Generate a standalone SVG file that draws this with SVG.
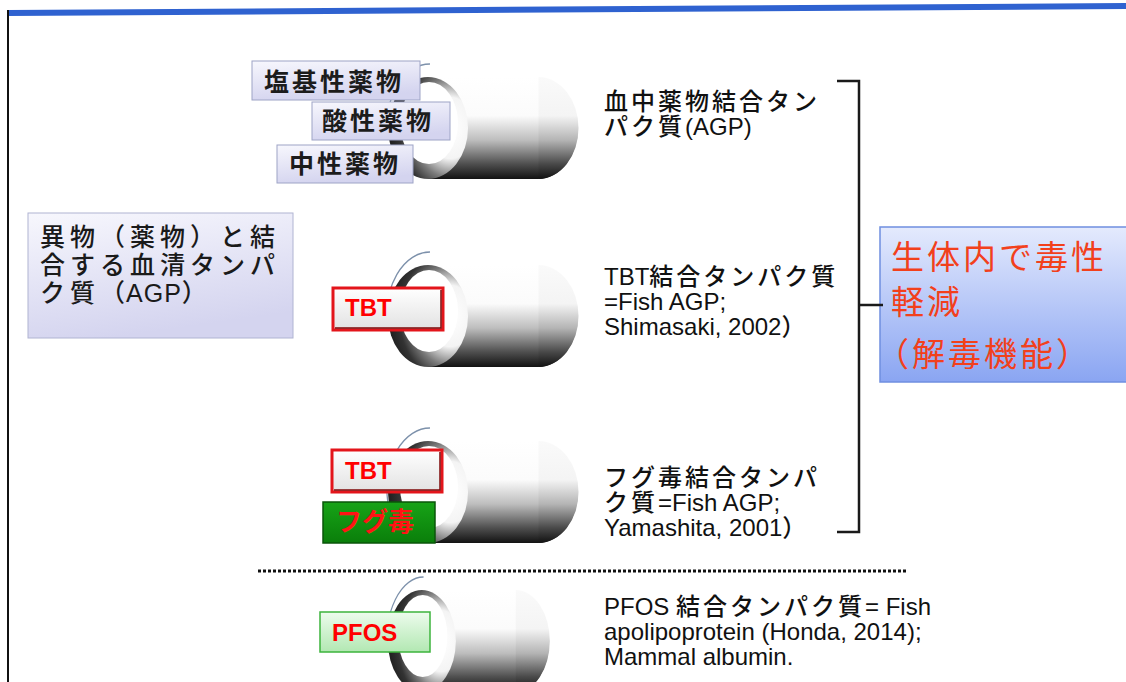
<svg xmlns="http://www.w3.org/2000/svg" width="1126" height="682" viewBox="0 0 1126 682">
  <defs>
    <!-- tube shading -->
    <linearGradient id="gBody" x1="0" y1="0" x2="0" y2="1">
      <stop offset="0" stop-color="#ffffff"/>
      <stop offset="0.38" stop-color="#fbfbfb"/>
      <stop offset="0.62" stop-color="#bdbdbd"/>
      <stop offset="0.85" stop-color="#505050"/>
      <stop offset="1" stop-color="#121212"/>
    </linearGradient>
    <linearGradient id="gCap" x1="0" y1="0" x2="0" y2="1">
      <stop offset="0" stop-color="#fafafa"/>
      <stop offset="0.38" stop-color="#f4f4f4"/>
      <stop offset="0.62" stop-color="#b4b4b4"/>
      <stop offset="0.85" stop-color="#4a4a4a"/>
      <stop offset="1" stop-color="#111111"/>
    </linearGradient>
    <radialGradient id="gRing" cx="0.78" cy="0.5" r="0.75">
      <stop offset="0" stop-color="#ffffff"/>
      <stop offset="0.4" stop-color="#f4f4f4"/>
      <stop offset="0.65" stop-color="#7a7a7a"/>
      <stop offset="0.85" stop-color="#333333"/>
      <stop offset="1" stop-color="#222222"/>
    </radialGradient>
    <!-- box fills -->
    <linearGradient id="gLav" x1="0" y1="0" x2="0.3" y2="1">
      <stop offset="0" stop-color="#f7f7fd"/>
      <stop offset="1" stop-color="#d4d4ef"/>
    </linearGradient>
    <linearGradient id="gWhite" x1="0" y1="0" x2="0" y2="1">
      <stop offset="0" stop-color="#ffffff"/>
      <stop offset="1" stop-color="#e2e2e2"/>
    </linearGradient>
    <linearGradient id="gGreen" x1="0" y1="0" x2="0" y2="1">
      <stop offset="0" stop-color="#17a317"/>
      <stop offset="1" stop-color="#0a7e0a"/>
    </linearGradient>
    <linearGradient id="gMint" x1="0" y1="0" x2="0" y2="1">
      <stop offset="0" stop-color="#edfced"/>
      <stop offset="1" stop-color="#b2e8b2"/>
    </linearGradient>
    <linearGradient id="gBlue" x1="0" y1="0" x2="0" y2="1">
      <stop offset="0" stop-color="#e4eafd"/>
      <stop offset="1" stop-color="#8aa5f2"/>
    </linearGradient>

    <!-- horizontal tube, origin = left rim edge at mid height -->
    <g id="tube">
      <path d="M41,-51 H151 A40,51 0 0 1 151,51 H41 Z" fill="url(#gBody)"/>
      <path d="M151.5,-51 A40,51 0 0 1 151.5,51 Z" fill="url(#gCap)"/>
      <ellipse cx="41" cy="0" rx="40" ry="51" fill="url(#gRing)"/>
      <ellipse cx="42" cy="-5" rx="29" ry="41" fill="#ffffff"/>
      <path d="M0.8,10 A43,62 0 0 1 43,-64" fill="none" stroke="#7d91ab" stroke-width="1.3"/>
    </g>
  </defs>

  <style>
    text { font-family: "Liberation Sans", "Noto Sans CJK JP", sans-serif; }
    .drug rect { fill: url(#gLav); stroke: #9ea4c6; stroke-width: 1; }
    .drug text { font-size: 25px; font-weight: bold; letter-spacing: 3px; fill: #1c1c1c; }
    .tbt rect { fill: url(#gWhite); stroke: #e3151b; stroke-width: 3; }
    .tbt path { fill: none; stroke: #7d0808; stroke-width: 1.5; }
    .tag { font-size: 24px; font-weight: bold; fill: #ff0000; }
    .note { font-size: 24px; font-weight: 500; fill: #111111; }
    .j { letter-spacing: 3px; }
    .lead { font-size: 25px; font-weight: 500; letter-spacing: 5px; fill: #1a1a1a; }
    .lat { letter-spacing: 1px; }
    .effect { font-size: 33px; letter-spacing: 3px; fill: #f2401c; }
    .line { fill: none; stroke: #1a1a1a; stroke-width: 2.5; }
  </style>

  <rect width="1126" height="682" fill="#ffffff"/>

  <!-- frame: blue top rule and left edge -->
  <g id="frame">
    <polygon points="8,10 1126,3 1126,9 8,16" fill="#2f62d0"/>
    <line x1="8" y1="10" x2="8" y2="682" stroke="#111111" stroke-width="2"/>
  </g>

  <!-- title box -->
  <g id="serum-protein">
    <rect x="28" y="213" width="265" height="125" fill="url(#gLav)" stroke="#b0b4d2" stroke-width="1"/>
    <text class="lead" x="40" y="246">異物（薬物）と結</text>
    <text class="lead" x="40" y="274">合する血清タンパ</text>
    <text class="lead" x="40" y="302">ク質<tspan class="lat">（AGP）</tspan></text>
  </g>

  <!-- AGP with drugs -->
  <g id="agp">
    <use href="#tube" transform="translate(387,128)"/>
    <g class="drug">
      <rect x="252" y="61" width="168" height="39"/>
      <text x="264" y="91">塩基性薬物</text>
      <rect x="312" y="102" width="138" height="38"/>
      <text x="322" y="130">酸性薬物</text>
      <rect x="277" y="145" width="136" height="38"/>
      <text x="289" y="173">中性薬物</text>
    </g>
    <text class="note" x="604" y="110"><tspan class="j">血中薬物結合タン</tspan></text>
    <text class="note" x="604" y="135"><tspan class="j">パク質</tspan>(AGP)</text>
  </g>

  <!-- TBT binding protein -->
  <g id="tbt-protein">
    <use href="#tube" transform="translate(387,316)"/>
    <g class="tbt">
      <rect x="333" y="288" width="110" height="42"/>
      <path d="M441,290 V328 H335"/>
    </g>
    <text class="tag" x="345" y="316">TBT</text>
    <text class="note" x="604" y="285">TBT<tspan class="j">結合タンパク質</tspan></text>
    <text class="note" x="604" y="310">=Fish AGP;</text>
    <text class="note" x="604" y="335">Shimasaki, 2002）</text>
  </g>

  <!-- pufferfish toxin binding protein -->
  <g id="ttx-protein">
    <use href="#tube" transform="translate(387,492)"/>
    <g class="tbt">
      <rect x="332" y="450" width="110" height="42"/>
      <path d="M440,452 V490 H334"/>
    </g>
    <text class="tag" x="345" y="479">TBT</text>
    <rect x="323" y="502" width="112" height="41" fill="url(#gGreen)" stroke="#0a560a" stroke-width="1.5"/>
    <text x="336" y="531" font-size="26" font-weight="bold" fill="#ff1414">フグ毒</text>
    <text class="note" x="604" y="486"><tspan class="j">フグ毒結合タンパ</tspan></text>
    <text class="note" x="604" y="511"><tspan class="j">ク質</tspan>=Fish AGP;</text>
    <text class="note" x="604" y="536">Yamashita, 2001）</text>
  </g>

  <!-- outcome -->
  <g id="detox">
    <rect x="880" y="227" width="260" height="155" fill="url(#gBlue)" stroke="#6f8fe0" stroke-width="1.5"/>
    <text class="effect" x="891" y="269">生体内で毒性</text>
    <text class="effect" x="891" y="314">軽減</text>
    <text class="effect" x="876" y="366">（解毒機能）</text>
  </g>

  <!-- bracket joining the three proteins to the outcome -->
  <g id="connectors">
    <path class="line" d="M837,81 H859 V532 H837"/>
    <path class="line" d="M859,305 H883"/>
  </g>

  <!-- separator -->
  <g id="separator">
    <line x1="258" y1="571" x2="906" y2="571" stroke="#111111" stroke-width="3" stroke-dasharray="3 2"/>
  </g>

  <!-- PFOS binding protein -->
  <g id="pfos-protein">
    <use href="#tube" transform="translate(387,641) scale(0.85,1)"/>
    <rect x="320" y="612" width="110" height="40" fill="url(#gMint)" stroke="#3cb43c" stroke-width="1.5"/>
    <text class="tag" x="332" y="641">PFOS</text>
    <text class="note" x="604" y="615">PFOS <tspan class="j">結合タンパク質</tspan>= Fish</text>
    <text class="note" x="604" y="640">apolipoprotein (Honda, 2014);</text>
    <text class="note" x="604" y="665">Mammal albumin.</text>
  </g>
</svg>
